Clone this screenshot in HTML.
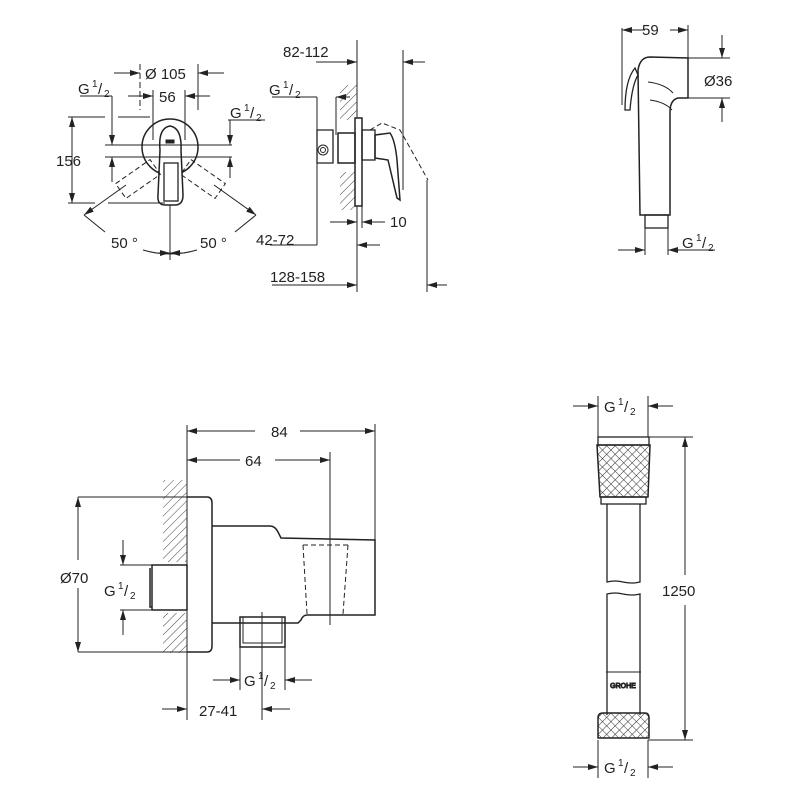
<!DOCTYPE html>
<html><head><style>
html,body{margin:0;padding:0;background:#fff;}
svg{display:block;}
text{font-family:"Liberation Sans",Arial,sans-serif;fill:#222;font-size:15px;}
.s{font-size:10px;}
</style></head><body>
<svg width="800" height="800" viewBox="0 0 800 800" xmlns="http://www.w3.org/2000/svg">
<defs>
<marker id="a" viewBox="0 0 10 6" refX="10" refY="3" markerWidth="10" markerHeight="6" orient="auto-start-reverse" markerUnits="userSpaceOnUse"><path d="M0,0 L10,3 L0,6z" fill="#222"/></marker>
<pattern id="h" width="6" height="6" patternUnits="userSpaceOnUse" patternTransform="rotate(45)"><line x1="0" y1="0" x2="0" y2="6" stroke="#444" stroke-width="1"/></pattern>
<pattern id="k" width="6" height="6" patternUnits="userSpaceOnUse" patternTransform="rotate(45)"><path d="M0,0V6M0,0H6" stroke="#333" stroke-width="1" fill="none"/></pattern>
</defs>
<g stroke="#222" stroke-width="1" fill="none">
<!-- TOP LEFT front view -->
<circle cx="170" cy="147" r="28" stroke-width="1.5"/>
<path d="M160,150 Q158,128 170,126 Q182,128 181,150 L183,195 Q183,205 175,205 L165,205 Q157,205 158,195 Z" fill="#fff" stroke-width="1.5"/>
<rect x="164" y="163" width="14" height="38" stroke-width="1.3"/>
<rect x="166" y="140" width="8" height="3" fill="#222"/>
<g stroke-dasharray="5,3">
<rect x="117" y="170" width="42" height="18" transform="rotate(-35 138 179)"/>
<rect x="182" y="170" width="42" height="18" transform="rotate(35 203 179)"/>
</g>
<line x1="105" y1="145" x2="232" y2="145"/><line x1="105" y1="157" x2="232" y2="157"/>
<line x1="68" y1="117" x2="105" y2="117"/><line x1="118" y1="117" x2="150" y2="117"/>
<line x1="68" y1="203" x2="95" y2="203"/><line x1="108" y1="203" x2="165" y2="203"/>
<line x1="72" y1="117" x2="72" y2="203" marker-start="url(#a)" marker-end="url(#a)"/>
<line x1="80" y1="96" x2="112" y2="96"/><line x1="112" y1="96" x2="112" y2="145" marker-end="url(#a)"/><line x1="112" y1="182" x2="112" y2="157" marker-end="url(#a)"/>
<line x1="228" y1="120" x2="265" y2="120"/><line x1="230" y1="120" x2="230" y2="145" marker-end="url(#a)"/><line x1="230" y1="178" x2="230" y2="157" marker-end="url(#a)"/>
<line x1="140" y1="64" x2="140" y2="110" stroke-dasharray="6,3"/><line x1="198" y1="64" x2="198" y2="110"/>
<line x1="114" y1="73" x2="140" y2="73" marker-end="url(#a)"/><line x1="224" y1="73" x2="198" y2="73" marker-end="url(#a)"/>
<line x1="153" y1="90" x2="153" y2="140"/><line x1="185" y1="90" x2="185" y2="140"/>
<line x1="128" y1="96" x2="153" y2="96" marker-end="url(#a)"/><line x1="210" y1="96" x2="185" y2="96" marker-end="url(#a)"/>
<line x1="170" y1="205" x2="170" y2="260"/>
<line x1="126" y1="185" x2="84" y2="215" marker-end="url(#a)"/><line x1="214" y1="185" x2="256" y2="215" marker-end="url(#a)"/>
<line x1="84" y1="215" x2="105" y2="232"/><line x1="256" y1="215" x2="235" y2="232"/>
<path d="M143,250 Q170,258 197,250" />
<line x1="155" y1="253" x2="170" y2="253" marker-end="url(#a)"/><line x1="185" y1="253" x2="170" y2="253" marker-end="url(#a)"/>

<!-- TOP MIDDLE side view -->
<line x1="357" y1="40" x2="357" y2="292"/>
<rect x="340" y="85" width="17" height="35" fill="url(#h)" stroke="none"/>
<rect x="340" y="172" width="17" height="38" fill="url(#h)" stroke="none"/>
<rect x="355" y="118" width="7" height="88" fill="#fff" stroke-width="1.5"/>
<rect x="338" y="133" width="17" height="30" stroke-width="1.5"/>
<path d="M317,130 L333,130 L333,163 L317,163 Z" stroke-width="1.3"/>
<circle cx="323" cy="150" r="5"/><circle cx="323" cy="150" r="2.5"/>
<rect x="362" y="130" width="13" height="30" stroke-width="1.3"/>
<path d="M375,135 L390,133 Q395,140 397,160 L400,200 L397,198 L388,160 L375,158 Z" stroke-width="1.5"/>
<path d="M370,130 L382,123 L400,130 L428,180" stroke-dasharray="5,3"/>
<line x1="316" y1="62" x2="357" y2="62" marker-end="url(#a)"/>
<line x1="403" y1="50" x2="403" y2="190"/><line x1="425" y1="62" x2="403" y2="62" marker-end="url(#a)"/>
<line x1="272" y1="97" x2="317" y2="97"/><line x1="317" y1="97" x2="317" y2="245"/>
<line x1="336" y1="97" x2="336" y2="135"/><line x1="350" y1="97" x2="336" y2="97" marker-end="url(#a)"/>
<line x1="330" y1="222" x2="357" y2="222" marker-end="url(#a)"/><line x1="385" y1="222" x2="362" y2="222" marker-end="url(#a)"/><line x1="362" y1="206" x2="362" y2="228"/>
<line x1="270" y1="245" x2="317" y2="245"/><line x1="380" y1="245" x2="357" y2="245" marker-end="url(#a)"/>
<line x1="272" y1="285" x2="357" y2="285" marker-end="url(#a)"/>
<line x1="427" y1="180" x2="427" y2="292"/><line x1="447" y1="285" x2="427" y2="285" marker-end="url(#a)"/>

<!-- TOP RIGHT hand shower -->
<path d="M640,215 L638,70 Q640,57 650,57 L688,58 L688,98 L678,98 Q670,100 670,112 L670,215 Z" stroke-width="1.5"/>
<path d="M648,82 Q665,84 673,93 M650,100 Q665,102 672,110"/>
<path d="M635,68 Q625,80 625,110 L630,110 Q632,85 638,75 Z" stroke-width="1.3"/>
<rect x="645" y="215" width="23" height="13" stroke-width="1.3"/>
<line x1="622" y1="28" x2="622" y2="105"/><line x1="688" y1="25" x2="688" y2="60"/>
<line x1="645" y1="30" x2="622" y2="30" marker-end="url(#a)"/><line x1="670" y1="30" x2="688" y2="30" marker-end="url(#a)"/>
<line x1="688" y1="58" x2="730" y2="58"/><line x1="688" y1="98" x2="730" y2="98"/>
<line x1="722" y1="35" x2="722" y2="58" marker-end="url(#a)"/><line x1="722" y1="122" x2="722" y2="98" marker-end="url(#a)"/>
<line x1="645" y1="228" x2="645" y2="255"/><line x1="668" y1="228" x2="668" y2="255"/>
<line x1="618" y1="250" x2="645" y2="250" marker-end="url(#a)"/><line x1="695" y1="250" x2="668" y2="250" marker-end="url(#a)"/><line x1="668" y1="250" x2="715" y2="250"/>

<!-- BOTTOM LEFT wall outlet -->
<line x1="187" y1="425" x2="187" y2="720"/>
<rect x="163" y="480" width="24" height="82" fill="url(#h)" stroke="none"/>
<rect x="163" y="613" width="24" height="40" fill="url(#h)" stroke="none"/>
<path d="M187,497 L207,497 Q212,497 212,503 L212,646 Q212,652 207,652 L187,652" stroke-width="1.5"/>
<path d="M212,526 L270,526 Q275,526 278,532 L281,538 L375,540 L375,615 L307,615 Q303,615 301,620 L298,623 L212,623" stroke-width="1.5"/>
<path d="M303,545 L307,614 M348,545 L343,614 M303,545 L348,545" stroke-dasharray="5,3"/>
<rect x="240" y="617" width="45" height="30" stroke-width="1.5"/>
<path d="M243,617 L243,643 L282,643 L282,617"/>
<path d="M152,565 L187,565 L187,610 L152,610 Z M150,568 L150,607 L152,607" stroke-width="1.5"/>
<line x1="375" y1="424" x2="375" y2="540"/><line x1="330" y1="452" x2="330" y2="625"/>
<line x1="255" y1="431" x2="187" y2="431" marker-end="url(#a)"/><line x1="300" y1="431" x2="375" y2="431" marker-end="url(#a)"/>
<line x1="240" y1="460" x2="187" y2="460" marker-end="url(#a)"/><line x1="275" y1="460" x2="330" y2="460" marker-end="url(#a)"/>
<line x1="78" y1="497" x2="190" y2="497"/><line x1="78" y1="652" x2="190" y2="652"/>
<line x1="78" y1="560" x2="78" y2="497" marker-end="url(#a)"/><line x1="78" y1="588" x2="78" y2="652" marker-end="url(#a)"/>
<line x1="120" y1="565" x2="152" y2="565"/><line x1="120" y1="610" x2="152" y2="610"/>
<line x1="123" y1="540" x2="123" y2="565" marker-end="url(#a)"/><line x1="123" y1="635" x2="123" y2="610" marker-end="url(#a)"/>
<line x1="240" y1="647" x2="240" y2="690"/><line x1="285" y1="647" x2="285" y2="690"/><line x1="262" y1="612" x2="262" y2="720"/>
<line x1="213" y1="680" x2="240" y2="680" marker-end="url(#a)"/><line x1="312" y1="680" x2="285" y2="680" marker-end="url(#a)"/>
<line x1="162" y1="709" x2="187" y2="709" marker-end="url(#a)"/><line x1="290" y1="709" x2="262" y2="709" marker-end="url(#a)"/>

<!-- BOTTOM RIGHT hose -->
<rect x="598" y="437" width="51" height="8" stroke-width="1.3"/>
<path d="M597,445 L650,445 L648,497 L600,497 Z" fill="url(#k)" stroke-width="1.5"/>
<rect x="601" y="497" width="45" height="7" stroke-width="1.3"/>
<path d="M607,504 L607,582 Q615,580 623,582 Q632,584 640,582 L640,504" stroke-width="1.3"/>
<path d="M607,715 L607,594 Q615,592 623,594 Q632,596 640,594 L640,715" stroke-width="1.3"/>
<line x1="606" y1="672" x2="641" y2="672"/>
<text x="623" y="688" class="s" text-anchor="middle" font-size="7" style="font-size:7px">GROHE</text>
<path d="M598,718 Q598,713 603,713 L645,713 Q649,713 649,718 L649,738 L598,738 Z" fill="url(#k)" stroke-width="1.5"/>
<line x1="648" y1="437" x2="693" y2="437"/><line x1="648" y1="740" x2="693" y2="740"/>
<line x1="685" y1="575" x2="685" y2="437" marker-end="url(#a)"/><line x1="685" y1="605" x2="685" y2="740" marker-end="url(#a)"/>
<line x1="598" y1="396" x2="598" y2="437"/><line x1="648" y1="396" x2="648" y2="437"/>
<line x1="573" y1="406" x2="598" y2="406" marker-end="url(#a)"/><line x1="673" y1="406" x2="648" y2="406" marker-end="url(#a)"/>
<line x1="598" y1="740" x2="598" y2="778"/><line x1="648" y1="740" x2="648" y2="778"/>
<line x1="573" y1="767" x2="598" y2="767" marker-end="url(#a)"/><line x1="673" y1="767" x2="648" y2="767" marker-end="url(#a)"/>
</g>
<g>
<text x="145" y="79">Ø 105</text>
<text x="159" y="102">56</text>
<text x="78" y="94">G</text><text x="92" y="87" class="s">1</text><text x="98" y="94">/</text><text x="104" y="97" class="s">2</text>
<text x="230" y="118">G</text><text x="244" y="111" class="s">1</text><text x="250" y="118">/</text><text x="256" y="121" class="s">2</text>
<text x="56" y="166">156</text>
<text x="111" y="248">50 °</text><text x="200" y="248">50 °</text>
<text x="283" y="57">82-112</text>
<text x="269" y="95">G</text><text x="283" y="88" class="s">1</text><text x="289" y="95">/</text><text x="295" y="98" class="s">2</text>
<text x="390" y="227">10</text>
<text x="256" y="245">42-72</text>
<text x="270" y="282">128-158</text>
<text x="642" y="35">59</text>
<text x="704" y="86">Ø36</text>
<text x="682" y="248">G</text><text x="696" y="241" class="s">1</text><text x="702" y="248">/</text><text x="708" y="251" class="s">2</text>
<text x="271" y="437">84</text>
<text x="245" y="466">64</text>
<text x="60" y="583">Ø70</text>
<text x="104" y="596">G</text><text x="118" y="589" class="s">1</text><text x="124" y="596">/</text><text x="130" y="599" class="s">2</text>
<text x="244" y="686">G</text><text x="258" y="679" class="s">1</text><text x="264" y="686">/</text><text x="270" y="689" class="s">2</text>
<text x="199" y="716">27-41</text>
<text x="604" y="412">G</text><text x="618" y="405" class="s">1</text><text x="624" y="412">/</text><text x="630" y="415" class="s">2</text>
<text x="662" y="596">1250</text>
<text x="604" y="773">G</text><text x="618" y="766" class="s">1</text><text x="624" y="773">/</text><text x="630" y="776" class="s">2</text>
</g>
</svg>
</body></html>
